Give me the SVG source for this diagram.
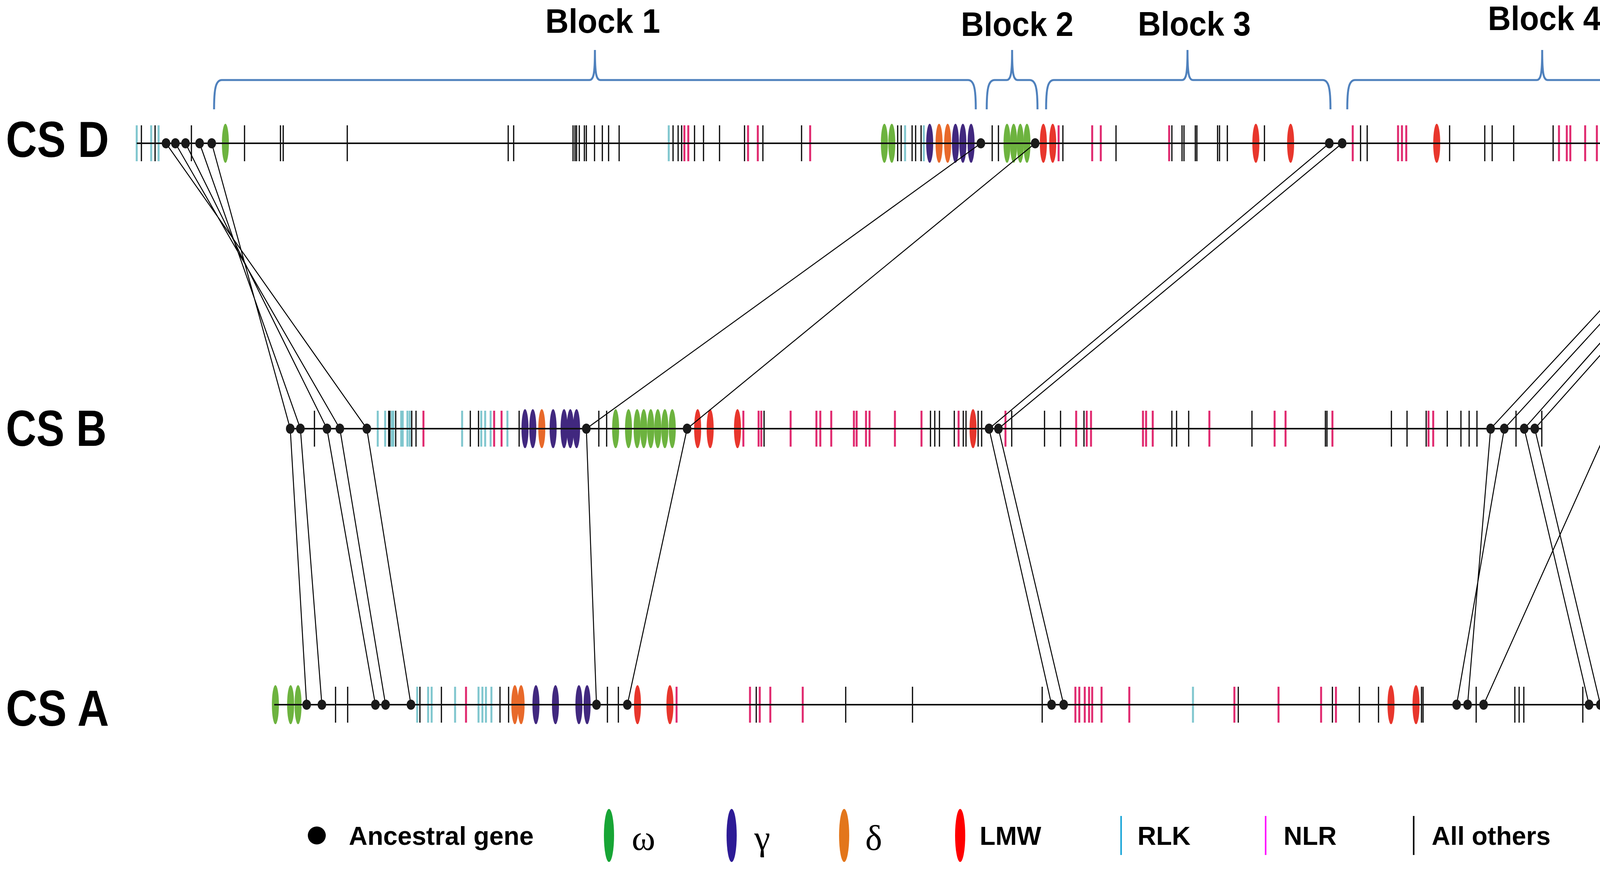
<svg xmlns="http://www.w3.org/2000/svg" width="4607" height="2231" viewBox="0 0 4607 2231">
<style>
text{font-family:"Liberation Sans",Arial,sans-serif;font-weight:bold;fill:#000}
.lbl{font-size:130px}
.blk{font-size:88px}
.leg{font-size:66px}
.gr{font-family:"Liberation Serif","Times New Roman",serif;font-weight:normal;font-size:92px}
.chr{stroke:#111;stroke-width:4;fill:none}
.k{stroke:#000;stroke-width:3;fill:none}
.c{stroke:#7FC6CE;stroke-width:5;fill:none}
.m{stroke:#E0286E;stroke-width:5;fill:none}
.om{fill:#6DB33F}
.ga{fill:#41287F}
.de{fill:#E8692A}
.lm{fill:#E8362C}
.dot{fill:#1A1A1A}
.con{stroke:#000;stroke-width:2.5;fill:none}
.br{stroke:#4F81BD;stroke-width:5;fill:none}
</style>

<g id="blocks">
<g id="block1"><path class="br" d="M548,280 C548,228 552,205 568,205 L1509,205 C1519,205 1523,192 1523,128 C1523,192 1527,205 1537,205 L2478,205 C2494,205 2498,228 2498,280"/><text class="blk" x="1396" y="84" textLength="294" lengthAdjust="spacingAndGlyphs">Block 1</text></g>
<g id="block2"><path class="br" d="M2526,280 C2526,228 2530,205 2546,205 L2577,205 C2587,205 2591,192 2591,128 C2591,192 2595,205 2605,205 L2636,205 C2652,205 2656,228 2656,280"/><text class="blk" x="2460" y="92" textLength="288" lengthAdjust="spacingAndGlyphs">Block 2</text></g>
<g id="block3"><path class="br" d="M2678,280 C2678,228 2682,205 2698,205 L3026,205 C3036,205 3040,192 3040,128 C3040,192 3044,205 3054,205 L3386,205 C3402,205 3406,228 3406,280"/><text class="blk" x="2913" y="91" textLength="289" lengthAdjust="spacingAndGlyphs">Block 3</text></g>
<g id="block4"><path class="br" d="M3449,280 C3449,228 3453,205 3469,205 L3934,205 C3944,205 3948,192 3948,128 C3948,192 3952,205 3962,205 L4428,205 C4444,205 4448,228 4448,280"/><text class="blk" x="3809" y="77" textLength="289" lengthAdjust="spacingAndGlyphs">Block 4</text></g>
</g>

<g id="chrD">
<text class="lbl" x="15" y="402" textLength="264" lengthAdjust="spacingAndGlyphs">CS D</text>
<path class="k" d="M362 321v92M397 321v92M490 321v92M626 321v92M718 321v92M725 321v92M889 321v92M1301 321v92M1315 321v92M1467 321v92M1472 321v92M1476 321v92M1483 321v92M1496 321v92M1501 321v92M1522 321v92M1542 321v92M1558 321v92M1585 321v92M1723 321v92M1736 321v92M1745 321v92M1778 321v92M1801 321v92M1842 321v92M1906 321v92M1953 321v92M2052 321v92M2298 321v92M2307 321v92M2335 321v92M2344 321v92M2358 321v92M2540 321v92M2556 321v92M2721 321v92M2857 321v92M3000 321v92M3026 321v92M3031 321v92M3060 321v92M3064 321v92M3117 321v92M3122 321v92M3142 321v92M3237 321v92M3483 321v92M3500 321v92M3711 321v92M3801 321v92M3820 321v92M3875 321v92M3976 321v92M4107 321v92M4281 321v92M4286 321v92M4318 321v92M4340 321v92M4358 321v92M4367 321v92M4420 321v92M4428 321v92M4462 321v92M4468 321v92M4597 321v92"/>
<path class="c" d="M350 321v92M387 321v92M406 321v92M1712 321v92M2317 321v92M2365 321v92"/>
<path class="m" d="M1752 321v92M1762 321v92M1915 321v92M1940 321v92M2074 321v92M2710 321v92M2796 321v92M2818 321v92M2993 321v92M3463 321v92M3579 321v92M3589 321v92M3600 321v92M3991 321v92M4011 321v92M4020 321v92M4058 321v92M4088 321v92M4181 321v92"/>
<g>
<ellipse class="om" cx="577" cy="367" rx="9" ry="50"/><ellipse class="om" cx="2264" cy="367" rx="9" ry="50"/><ellipse class="om" cx="2283" cy="367" rx="9" ry="50"/><ellipse class="om" cx="2578" cy="367" rx="9" ry="50"/><ellipse class="om" cx="2595" cy="367" rx="9" ry="50"/><ellipse class="om" cx="2612" cy="367" rx="9" ry="50"/><ellipse class="om" cx="2629" cy="367" rx="9" ry="50"/>
<ellipse class="ga" cx="2380" cy="367" rx="9" ry="50"/><ellipse class="ga" cx="2446" cy="367" rx="9" ry="50"/><ellipse class="ga" cx="2465" cy="367" rx="9" ry="50"/><ellipse class="ga" cx="2486" cy="367" rx="9" ry="50"/>
<ellipse class="de" cx="2404" cy="367" rx="9" ry="50"/><ellipse class="de" cx="2426" cy="367" rx="9" ry="50"/>
<ellipse class="lm" cx="2671" cy="367" rx="9" ry="50"/><ellipse class="lm" cx="2695" cy="367" rx="9" ry="50"/><ellipse class="lm" cx="3215" cy="367" rx="9" ry="50"/><ellipse class="lm" cx="3304" cy="367" rx="9" ry="50"/><ellipse class="lm" cx="3678" cy="367" rx="9" ry="50"/><ellipse class="lm" cx="4200" cy="367" rx="9" ry="50"/><ellipse class="lm" cx="4381" cy="367" rx="9" ry="50"/>
</g>
<line class="chr" x1="350" y1="367" x2="4600" y2="367"/>
</g>

<g id="chrB">
<text class="lbl" x="15" y="1142" textLength="258" lengthAdjust="spacingAndGlyphs">CS B</text>
<path class="k" d="M805 1052v92M995 1052v92M998 1052v92M1013 1052v92M1054 1052v92M1065 1052v92M1204 1052v92M1225 1052v92M1329 1052v92M1533 1052v92M1553 1052v92M1956 1052v92M2382 1052v92M2393 1052v92M2405 1052v92M2443 1052v92M2466 1052v92M2473 1052v92M2504 1052v92M2513 1052v92M2590 1052v92M2674 1052v92M2715 1052v92M2775 1052v92M3000 1052v92M3012 1052v92M3043 1052v92M3205 1052v92M3393 1052v92M3397 1052v92M3562 1052v92M3602 1052v92M3651 1052v92M3705 1052v92M3740 1052v92M3761 1052v92M3781 1052v92M3881 1052v92M3947 1052v92"/>
<path class="c" d="M967 1052v92M986 1052v92M1003 1052v92M1007 1052v92M1027 1052v92M1031 1052v92M1043 1052v92M1049 1052v92M1183 1052v92M1232 1052v92M1242 1052v92M1256 1052v92M1299 1052v92"/>
<path class="m" d="M1084 1052v92M1265 1052v92M1284 1052v92M1903 1052v92M1942 1052v92M1949 1052v92M2024 1052v92M2090 1052v92M2100 1052v92M2128 1052v92M2186 1052v92M2193 1052v92M2217 1052v92M2226 1052v92M2291 1052v92M2359 1052v92M2454 1052v92M2574 1052v92M2755 1052v92M2782 1052v92M2793 1052v92M2926 1052v92M2934 1052v92M2951 1052v92M3096 1052v92M3263 1052v92M3291 1052v92M3411 1052v92M3657 1052v92M3669 1052v92"/>
<g>
<ellipse class="ga" cx="1344" cy="1098" rx="9" ry="50"/><ellipse class="ga" cx="1364" cy="1098" rx="9" ry="50"/><ellipse class="ga" cx="1416" cy="1098" rx="9" ry="50"/><ellipse class="ga" cx="1444" cy="1098" rx="9" ry="50"/><ellipse class="ga" cx="1460" cy="1098" rx="9" ry="50"/><ellipse class="ga" cx="1476" cy="1098" rx="9" ry="50"/>
<ellipse class="de" cx="1387" cy="1098" rx="9" ry="50"/>
<ellipse class="om" cx="1576" cy="1098" rx="9" ry="50"/><ellipse class="om" cx="1609" cy="1098" rx="9" ry="50"/><ellipse class="om" cx="1631" cy="1098" rx="9" ry="50"/><ellipse class="om" cx="1648" cy="1098" rx="9" ry="50"/><ellipse class="om" cx="1666" cy="1098" rx="9" ry="50"/><ellipse class="om" cx="1684" cy="1098" rx="9" ry="50"/><ellipse class="om" cx="1702" cy="1098" rx="9" ry="50"/><ellipse class="om" cx="1721" cy="1098" rx="9" ry="50"/>
<ellipse class="lm" cx="1786" cy="1098" rx="9" ry="50"/><ellipse class="lm" cx="1818" cy="1098" rx="9" ry="50"/><ellipse class="lm" cx="1888" cy="1098" rx="9" ry="50"/><ellipse class="lm" cx="2491" cy="1098" rx="9" ry="50"/>
</g>
<line class="chr" x1="735" y1="1098" x2="3947" y2="1098"/>
</g>

<g id="chrA">
<text class="lbl" x="15" y="1859" textLength="264" lengthAdjust="spacingAndGlyphs">CS A</text>
<path class="k" d="M859 1759v92M890 1759v92M1075 1759v92M1130 1759v92M1280 1759v92M1302 1759v92M1555 1759v92M1583 1759v92M1936 1759v92M2165 1759v92M2336 1759v92M2668 1759v92M3170 1759v92M3411 1759v92M3480 1759v92M3529 1759v92M3639 1759v92M3643 1759v92M3779 1759v92M3878 1759v92M3889 1759v92M3901 1759v92M4052 1759v92M4111 1759v92"/>
<path class="c" d="M1068 1759v92M1096 1759v92M1105 1759v92M1165 1759v92M1225 1759v92M1235 1759v92M1244 1759v92M1258 1759v92M3054 1759v92"/>
<path class="m" d="M1193 1759v92M1732 1759v92M1920 1759v92M1945 1759v92M1972 1759v92M2055 1759v92M2753 1759v92M2763 1759v92M2777 1759v92M2788 1759v92M2796 1759v92M2820 1759v92M2891 1759v92M3160 1759v92M3273 1759v92M3382 1759v92M3420 1759v92"/>
<g>
<ellipse class="om" cx="705" cy="1805" rx="9" ry="50"/><ellipse class="om" cx="744" cy="1805" rx="9" ry="50"/><ellipse class="om" cx="763" cy="1805" rx="9" ry="50"/>
<ellipse class="de" cx="1318" cy="1805" rx="9" ry="50"/><ellipse class="de" cx="1334" cy="1805" rx="9" ry="50"/>
<ellipse class="ga" cx="1372" cy="1805" rx="9" ry="50"/><ellipse class="ga" cx="1422" cy="1805" rx="9" ry="50"/><ellipse class="ga" cx="1482" cy="1805" rx="9" ry="50"/><ellipse class="ga" cx="1503" cy="1805" rx="9" ry="50"/>
<ellipse class="lm" cx="1632" cy="1805" rx="9" ry="50"/><ellipse class="lm" cx="1715" cy="1805" rx="9" ry="50"/><ellipse class="lm" cx="3561" cy="1805" rx="9" ry="50"/><ellipse class="lm" cx="3625" cy="1805" rx="9" ry="50"/>
</g>
<line class="chr" x1="702" y1="1805" x2="4111" y2="1805"/>
</g>

<g id="connectors">
<path class="con" d="M425 367L939 1098M449 367L870 1098M475 367L837 1098M511 367L769 1098M542 367L743 1098M2511 367L1501 1098M2650 367L1759 1098M3403 367L2532 1098M3436 367L2556 1098M4493 367L3816 1098M4520 367L3851 1098M4550 367L3902 1098M4580 367L3929 1098M4444 367L3798 1805"/>
<path class="con" d="M743 1098L785 1805M769 1098L824 1805M837 1098L961 1805M870 1098L987 1805M939 1098L1052 1805M1501 1098L1527 1805M1759 1098L1606 1805M2532 1098L2692 1805M2556 1098L2723 1805M3816 1098L3757 1805M3851 1098L3729 1805M3902 1098L4068 1805M3929 1098L4097 1805"/>
</g>

<g id="ancestral-genes">
<g id="dotsD">
<ellipse class="dot" cx="425" cy="367" rx="11" ry="13"/><ellipse class="dot" cx="449" cy="367" rx="11" ry="13"/><ellipse class="dot" cx="475" cy="367" rx="11" ry="13"/><ellipse class="dot" cx="511" cy="367" rx="11" ry="13"/><ellipse class="dot" cx="542" cy="367" rx="11" ry="13"/><ellipse class="dot" cx="2511" cy="367" rx="11" ry="13"/><ellipse class="dot" cx="2650" cy="367" rx="11" ry="13"/><ellipse class="dot" cx="3403" cy="367" rx="11" ry="13"/><ellipse class="dot" cx="3436" cy="367" rx="11" ry="13"/><ellipse class="dot" cx="4444" cy="367" rx="11" ry="13"/><ellipse class="dot" cx="4493" cy="367" rx="11" ry="13"/><ellipse class="dot" cx="4520" cy="367" rx="11" ry="13"/><ellipse class="dot" cx="4550" cy="367" rx="11" ry="13"/><ellipse class="dot" cx="4580" cy="367" rx="11" ry="13"/>
</g>
<g id="dotsB">
<ellipse class="dot" cx="743" cy="1098" rx="11" ry="13"/><ellipse class="dot" cx="769" cy="1098" rx="11" ry="13"/><ellipse class="dot" cx="837" cy="1098" rx="11" ry="13"/><ellipse class="dot" cx="870" cy="1098" rx="11" ry="13"/><ellipse class="dot" cx="939" cy="1098" rx="11" ry="13"/><ellipse class="dot" cx="1501" cy="1098" rx="11" ry="13"/><ellipse class="dot" cx="1759" cy="1098" rx="11" ry="13"/><ellipse class="dot" cx="2532" cy="1098" rx="11" ry="13"/><ellipse class="dot" cx="2556" cy="1098" rx="11" ry="13"/><ellipse class="dot" cx="3816" cy="1098" rx="11" ry="13"/><ellipse class="dot" cx="3851" cy="1098" rx="11" ry="13"/><ellipse class="dot" cx="3902" cy="1098" rx="11" ry="13"/><ellipse class="dot" cx="3929" cy="1098" rx="11" ry="13"/>
</g>
<g id="dotsA">
<ellipse class="dot" cx="785" cy="1805" rx="11" ry="13"/><ellipse class="dot" cx="824" cy="1805" rx="11" ry="13"/><ellipse class="dot" cx="961" cy="1805" rx="11" ry="13"/><ellipse class="dot" cx="987" cy="1805" rx="11" ry="13"/><ellipse class="dot" cx="1052" cy="1805" rx="11" ry="13"/><ellipse class="dot" cx="1527" cy="1805" rx="11" ry="13"/><ellipse class="dot" cx="1606" cy="1805" rx="11" ry="13"/><ellipse class="dot" cx="2692" cy="1805" rx="11" ry="13"/><ellipse class="dot" cx="2723" cy="1805" rx="11" ry="13"/><ellipse class="dot" cx="3729" cy="1805" rx="11" ry="13"/><ellipse class="dot" cx="3757" cy="1805" rx="11" ry="13"/><ellipse class="dot" cx="3798" cy="1805" rx="11" ry="13"/><ellipse class="dot" cx="4068" cy="1805" rx="11" ry="13"/><ellipse class="dot" cx="4097" cy="1805" rx="11" ry="13"/>
</g>
</g>

<g id="legend">
<g id="leg-ancestral"><circle cx="811" cy="2140" r="23" fill="#000"/><text class="leg" x="893" y="2164">Ancestral gene</text></g>
<g id="leg-omega"><ellipse cx="1559" cy="2140" rx="13" ry="68" fill="#17A535"/><text class="gr" x="1617" y="2177">ω</text></g>
<g id="leg-gamma"><ellipse cx="1873" cy="2140" rx="13" ry="68" fill="#2D1B96"/><text class="gr" x="1931" y="2177">γ</text></g>
<g id="leg-delta"><ellipse cx="2161" cy="2140" rx="13" ry="68" fill="#E3761B"/><text class="gr" x="2215" y="2177">δ</text></g>
<g id="leg-lmw"><ellipse cx="2458" cy="2140" rx="13" ry="68" fill="#FF0000"/><text class="leg" x="2508" y="2164">LMW</text></g>
<g id="leg-rlk"><line x1="2870" y1="2090" x2="2870" y2="2190" stroke="#1BA6D8" stroke-width="4"/><text class="leg" x="2912" y="2164">RLK</text></g>
<g id="leg-nlr"><line x1="3240" y1="2090" x2="3240" y2="2190" stroke="#FF00FF" stroke-width="4"/><text class="leg" x="3286" y="2164">NLR</text></g>
<g id="leg-others"><line x1="3619" y1="2090" x2="3619" y2="2190" stroke="#000" stroke-width="4"/><text class="leg" x="3665" y="2164">All others</text></g>
</g>
</svg>
